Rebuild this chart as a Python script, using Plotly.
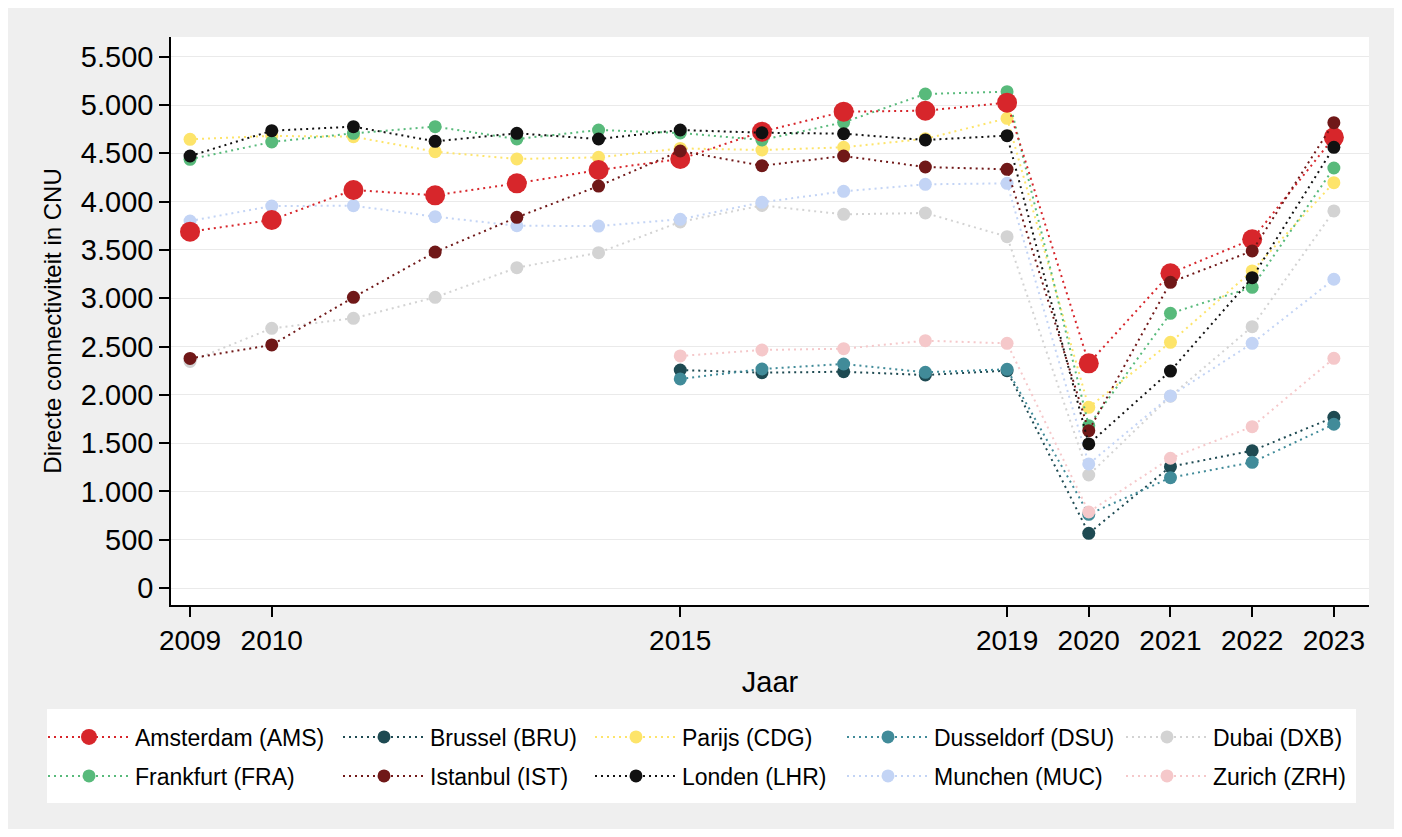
import plotly.graph_objects as go

# ---------------- data ----------------
years = [2009, 2010, 2011, 2012, 2013, 2014, 2015, 2016, 2017, 2018, 2019, 2020, 2021, 2022, 2023]
years_from_2015 = [2015, 2016, 2017, 2018, 2019, 2020, 2021, 2022, 2023]

ams = [3689, 3810, 4120, 4065, 4189, 4327, 4441, 4724, 4931, 4941, 5024, 2326, 3258, 3610, 4665]
fra = [4438, 4617, 4707, 4776, 4648, 4741, 4710, 4638, 4821, 5114, 5138, 1680, 2843, 3113, 4348]
cdg = [4645, 4680, 4672, 4517, 4441, 4458, 4551, 4534, 4562, 4650, 4862, 1870, 2543, 3282, 4196]
dxb = [2345, 2688, 2792, 3009, 3316, 3471, 3790, 3960, 3868, 3882, 3637, 1170, 1985, 2705, 3903]
ist = [2377, 2516, 3009, 3478, 3837, 4161, 4524, 4372, 4472, 4358, 4334, 1629, 3164, 3489, 4817]
lhr = [4472, 4734, 4776, 4624, 4707, 4648, 4741, 4713, 4703, 4638, 4683, 1491, 2246, 3212, 4562]
muc = [3799, 3954, 3958, 3844, 3750, 3747, 3817, 3993, 4106, 4179, 4189, 1284, 1988, 2533, 3196]
bru = [2257, 2229, 2239, 2205, 2250, 566, 1256, 1421, 1767]
dsu = [2164, 2267, 2319, 2233, 2264, 763, 1142, 1301, 1695]
zrh = [2402, 2464, 2477, 2560, 2533, 787, 1343, 1670, 2378]

x_tick_years = [2009, 2010, 2015, 2019, 2020, 2021, 2022, 2023]
y_tick_values = [0, 500, 1000, 1500, 2000, 2500, 3000, 3500, 4000, 4500, 5000, 5500]

labels = {
    "AMS": "Amsterdam (AMS)", "BRU": "Brussel (BRU)", "CDG": "Parijs (CDG)",
    "DSU": "Dusseldorf (DSU)", "DXB": "Dubai (DXB)", "FRA": "Frankfurt (FRA)",
    "IST": "Istanbul (IST)", "LHR": "Londen (LHR)", "MUC": "Munchen (MUC)",
    "ZRH": "Zurich (ZRH)",
}
data = {
    "AMS": (years, ams), "BRU": (years_from_2015, bru), "CDG": (years, cdg),
    "DSU": (years_from_2015, dsu), "DXB": (years, dxb), "FRA": (years, fra),
    "IST": (years, ist), "LHR": (years, lhr), "MUC": (years, muc),
    "ZRH": (years_from_2015, zrh),
}

# ---------------- styles ----------------
colors = {
    "AMS": "#D7262B", "BRU": "#1E4A52", "CDG": "#FDE46A", "DSU": "#418B99",
    "DXB": "#D3D3D3", "FRA": "#58BA7B", "IST": "#701818", "LHR": "#111111",
    "MUC": "#C3D4F5", "ZRH": "#F5C8CA",
}
marker_size = {k: 13 for k in colors}
marker_size["AMS"] = 20

# legend layout: row (legend id), column rank, column width
legend_row = {"AMS": "legend", "BRU": "legend", "CDG": "legend", "DSU": "legend", "DXB": "legend",
              "FRA": "legend2", "IST": "legend2", "LHR": "legend2", "MUC": "legend2", "ZRH": "legend2"}
legend_col = {"AMS": 1, "BRU": 2, "CDG": 3, "DSU": 4, "DXB": 5,
              "FRA": 1, "IST": 2, "LHR": 3, "MUC": 4, "ZRH": 5}
col_width = {1: 198, 2: 155, 3: 155, 4: 182, 5: 160}

draw_order = ["CDG", "DXB", "MUC", "BRU", "DSU", "ZRH", "FRA", "AMS", "IST", "LHR"]

FONT = "Liberation Sans, Arial, sans-serif"
# figure sits at (8, 8) on the page; positions below are page pixels
OFF = 8
W, H = 1386, 821
PLOT_X0, PLOT_X1, PLOT_Y0, PLOT_Y1 = 171, 1369, 37, 605
L, T = PLOT_X0 - OFF, PLOT_Y0 - OFF
R, B = OFF + W - PLOT_X1, OFF + H - PLOT_Y1
PW, PH = PLOT_X1 - PLOT_X0, PLOT_Y1 - PLOT_Y0


def px_x(px):
    return (px - PLOT_X0) / PW


def px_y(py):
    return (PLOT_Y1 - py) / PH


fig = go.Figure()
for key in draw_order:
    xs, ys = data[key]
    fig.add_trace(go.Scatter(
        x=xs, y=ys, name=labels[key], mode="lines+markers",
        line=dict(color=colors[key], width=2, dash="2px,4px"),
        marker=dict(color=colors[key], size=marker_size[key], line=dict(width=0)),
        legend=legend_row[key], legendrank=legend_col[key],
        legendwidth=col_width[legend_col[key]],
        hoverinfo="x+y+name",
    ))

shapes = [
    dict(type="rect", xref="paper", yref="paper", x0=px_x(47), x1=px_x(1356), y0=px_y(803), y1=px_y(709),
         fillcolor="white", line=dict(width=0), layer="below"),
]

legend_common = dict(
    orientation="h", xanchor="left", yanchor="middle", bgcolor="rgba(0,0,0,0)",
    borderwidth=0, itemwidth=82, entrywidthmode="pixels", traceorder="normal",
    font=dict(family=FONT, size=23, color="#000000"), itemclick=False, itemdoubleclick=False,
)

fig.update_layout(
    width=W, height=H, autosize=False,
    margin=dict(l=L, r=R, t=T, b=B, pad=0),
    paper_bgcolor="#EFEFEF", plot_bgcolor="white",
    separators=",.",
    font=dict(family=FONT, color="#000000"),
    showlegend=True,
    shapes=shapes,
    legend=dict(x=px_x(43), y=px_y(737), **legend_common),
    legend2=dict(x=px_x(43), y=px_y(776), **legend_common),
    xaxis=dict(
        range=[2008.767, 2023.43], tickmode="array", tickvals=x_tick_years,
        ticks="outside", ticklen=10, tickwidth=1.5, tickcolor="#000000",
        showline=True, linecolor="#000000", linewidth=1.5, showgrid=False, zeroline=False,
        tickfont=dict(family=FONT, size=28, color="#000000"),
        ticklabelstandoff=0,
        title=dict(text="Jaar", font=dict(family=FONT, size=29, color="#000000"), standoff=16),
        automargin=False,
    ),
    yaxis=dict(
        range=[-176, 5704], tickmode="array", tickvals=y_tick_values, tickformat=",d",
        ticks="outside", ticklen=10, tickwidth=1.5, tickcolor="#000000",
        showline=True, linecolor="#000000", linewidth=1.5,
        showgrid=True, gridcolor="#EAEAEA", gridwidth=1, zeroline=False,
        tickfont=dict(family=FONT, size=29, color="#000000"),
        title=dict(text="Directe connectiviteit in CNU", font=dict(family=FONT, size=24, color="#000000"), standoff=12),
        automargin=False,
    ),
)

fig.write_html("out.html")
